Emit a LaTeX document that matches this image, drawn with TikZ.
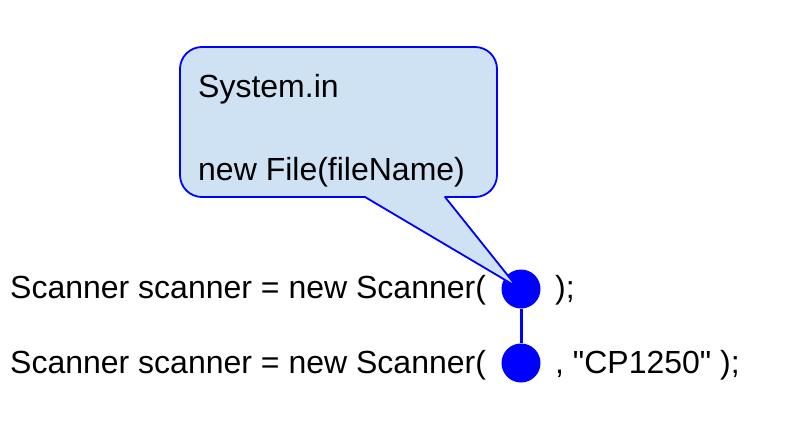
\documentclass[tikz,border=0pt]{standalone}
\usepackage{fontspec}
\newfontfamily\codefont{Liberation Sans}
\usepackage{xcolor}
\usepackage{tikz}
\usetikzlibrary{calc}
\definecolor{dotblue}{HTML}{0000FF}
\definecolor{calloutfill}{HTML}{CFE2F3}
\tikzset{
  codetext/.style={
    inner sep=0pt,anchor=base west,
    font=\codefont\fontsize{32}{38}\selectfont
  },
  dot/.style={
    circle,fill=dotblue,draw=none,
    minimum size=39pt,inner sep=0pt
  },
  link/.style={draw=dotblue,line width=3pt},
  callout/.style={
    draw=dotblue,fill=calloutfill,line width=1.8pt,line join=round
  }
}
\begin{document}
\begin{tikzpicture}[x=1pt,y=-1pt]
\useasboundingbox (0,0) rectangle (785,428);
% dots and the link between them
\node[dot] (dotA) at (521,289) {};
\node[dot] (dotB) at (521,363) {};
\draw[link] (dotA) -- (dotB);
% code lines
\node[codetext] (lineA) at (10,298) {Scanner scanner = new Scanner(};
\node[codetext] (closeA) at (555,298) {);};
\node[codetext] (lineB) at (10,373) {Scanner scanner = new Scanner(};
\node[codetext] (closeB) at (555,373) {, "CP1250" );};
% callout
\coordinate (tip) at ($(dotA.center)+(-4,-2)$);
\draw[callout,rounded corners=22pt] (365,197) -- (180,197) -- (180,47)
  -- (497,47) -- (497,197) [sharp corners] -- (445,197) -- (tip) -- cycle;
\node[codetext] (sysin) at (198,97) {System.in};
\node[codetext] (newfile) at (198,180) {new File(fileName)};
\end{tikzpicture}
\end{document}
